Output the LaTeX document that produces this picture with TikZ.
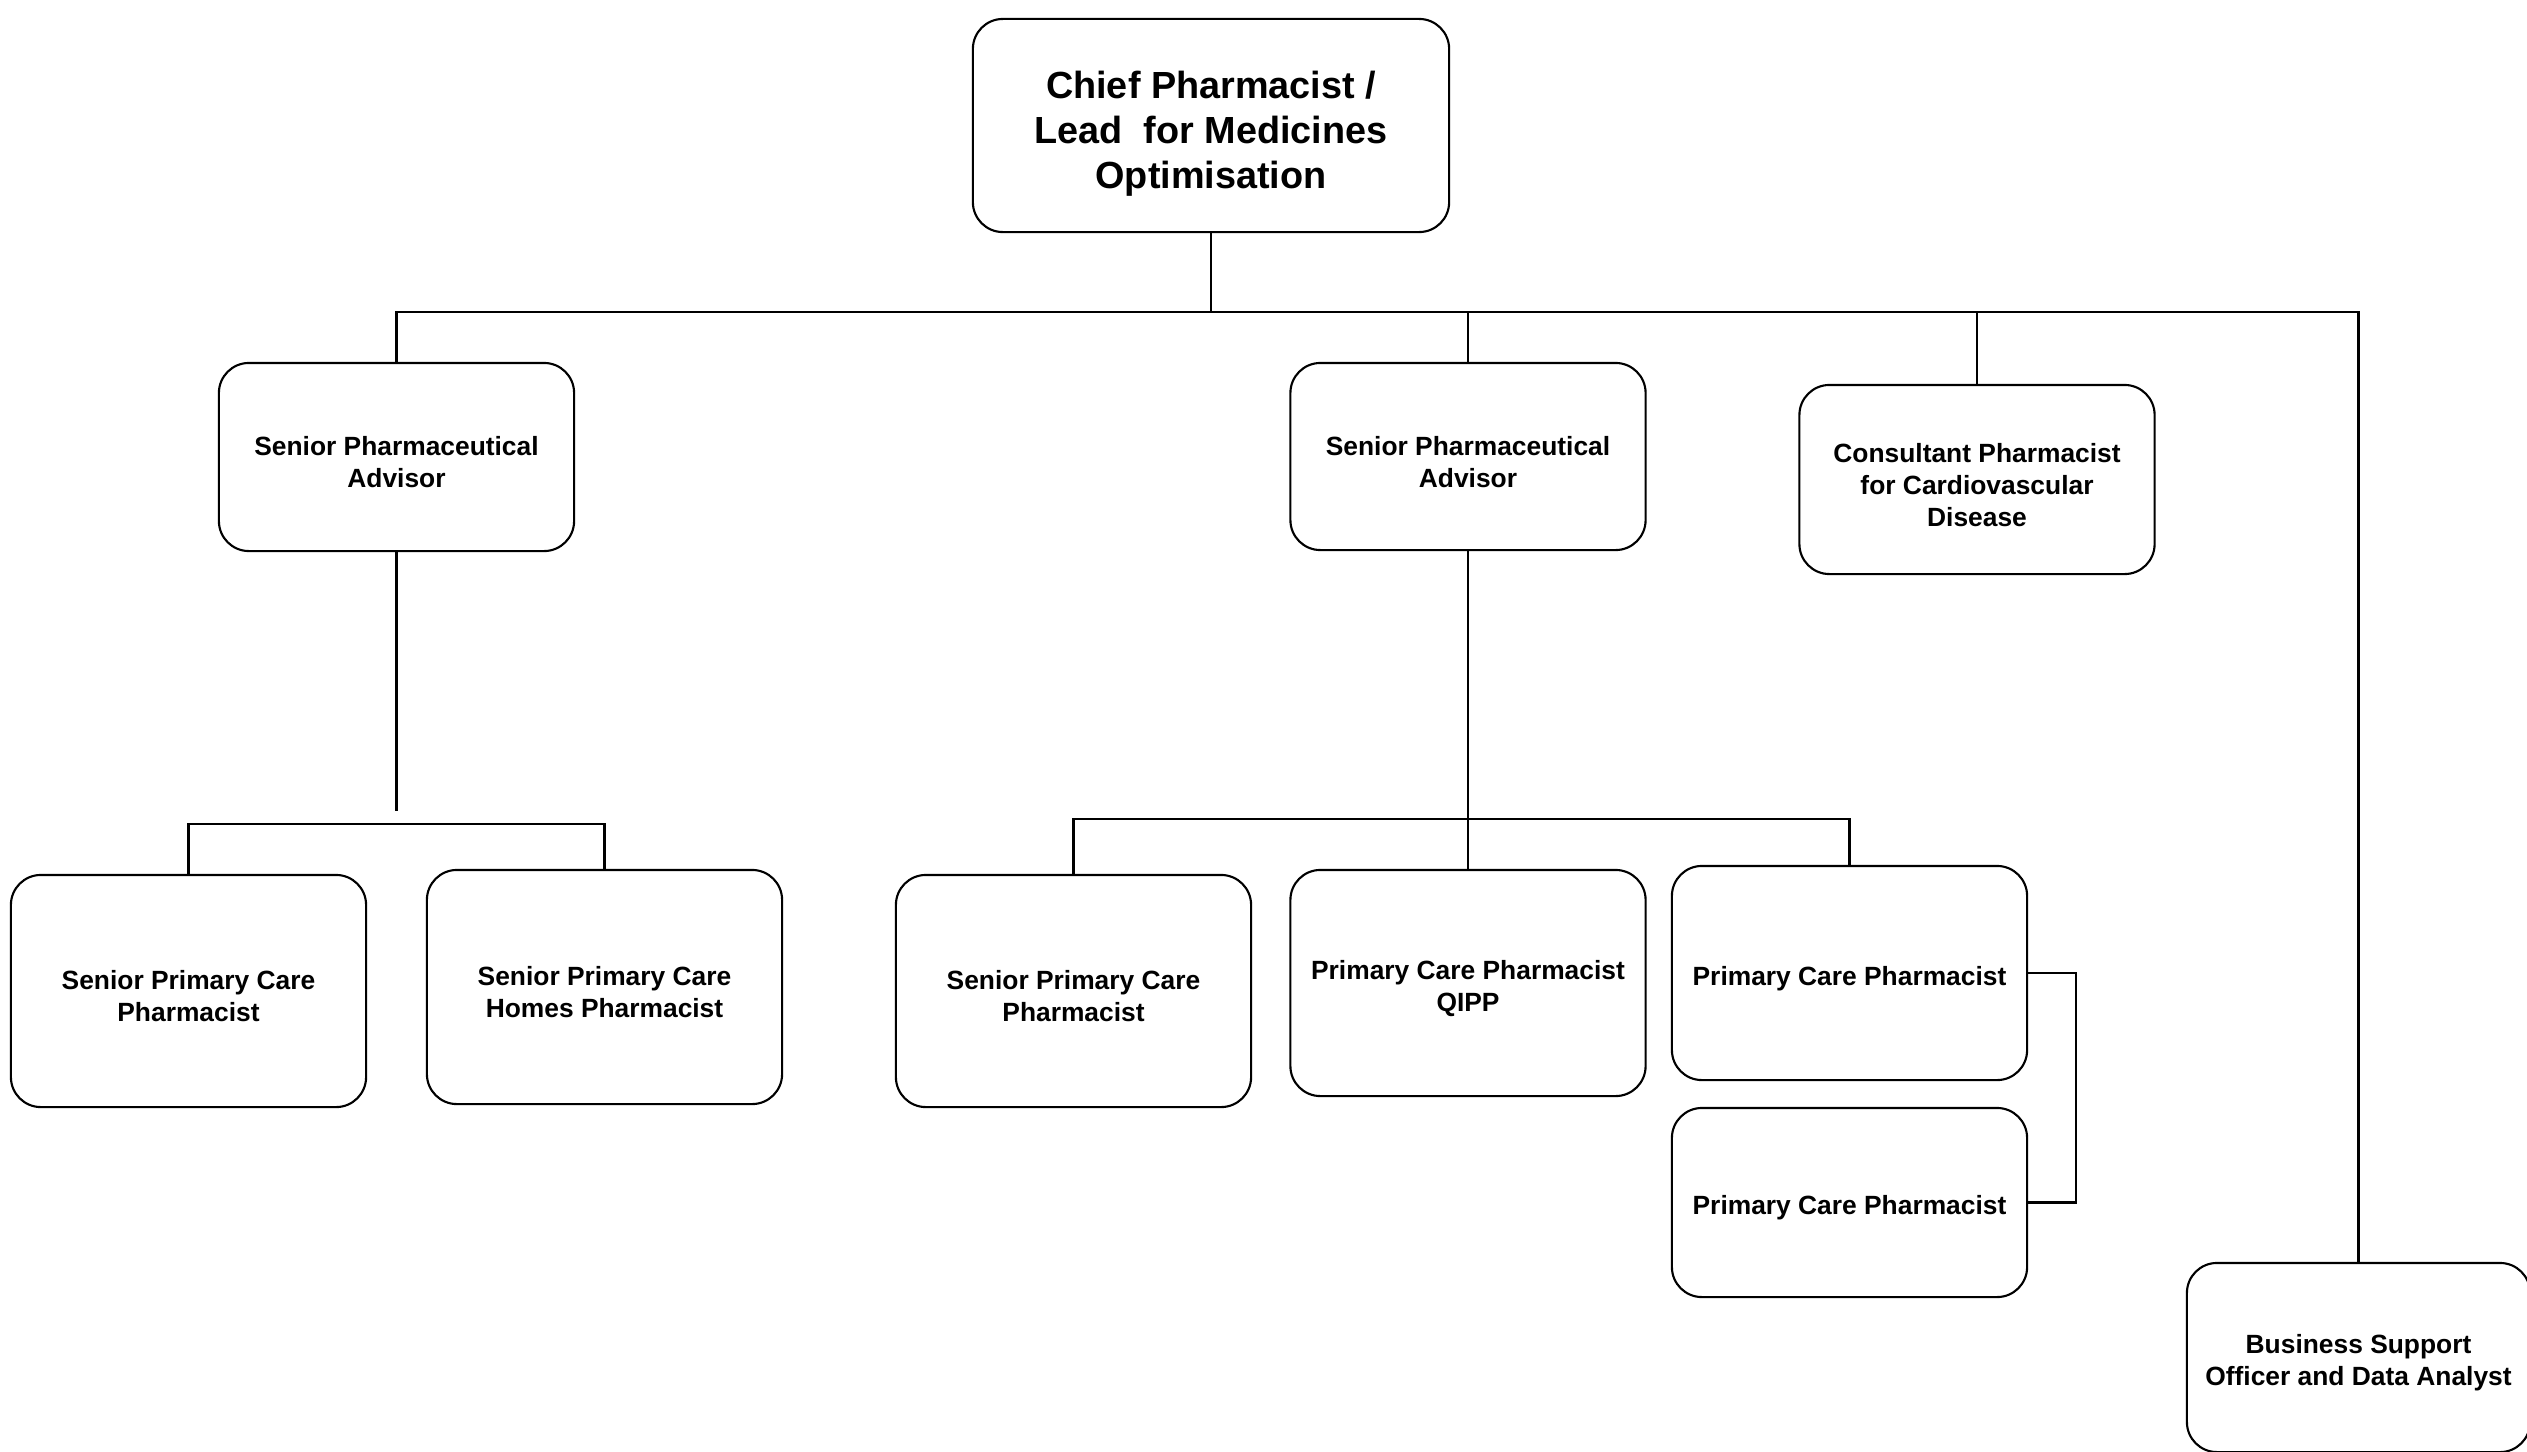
\documentclass[tikz,border=0pt]{standalone}
\usepackage{fontspec}
\setmainfont{Liberation Sans}
\newcommand{\topstrut}[1][8.5pt]{\rule{0pt}{#1}}
\begin{document}
\begin{tikzpicture}[x=0.01cm,y=-0.01cm,
  post/.style={draw,rounded corners=0.3cm,line width=0.6pt,align=center,inner sep=0pt,
    minimum width=3.55cm,font=\bfseries\fontsize{7.5}{9.1}\selectfont},
  link/.style={line width=0.7pt}]
\clip (0,0) rectangle (2527,1451);
\node[post,minimum width=4.76cm,minimum height=2.13cm,font=\bfseries\fontsize{10.75}{12.8}\selectfont]
  (chief) at (1211,125.5) {\topstrut[12.4pt]Chief Pharmacist /\\Lead~ for Medicines\\Optimisation};
\node[post,minimum height=1.88cm] (spaL) at (396.5,457) {\topstrut Senior Pharmaceutical\\Advisor};
\node[post,minimum height=1.87cm] (spaM) at (1468,456.5) {\topstrut Senior Pharmaceutical\\Advisor};
\node[post,minimum height=1.89cm] (cons) at (1977,479.5) {\topstrut Consultant Pharmacist\\for Cardiovascular\\Disease};
\node[post,minimum height=2.32cm] (spcL) at (188.5,991) {\topstrut Senior Primary Care\\Pharmacist};
\node[post,minimum height=2.34cm] (spch) at (604.5,987) {\topstrut Senior Primary Care\\Homes Pharmacist};
\node[post,minimum height=2.32cm] (spcM) at (1073.5,991) {\topstrut Senior Primary Care\\Pharmacist};
\node[post,minimum height=2.26cm] (qipp) at (1468,983) {\topstrut Primary Care Pharmacist\\QIPP};
\node[post,minimum height=2.14cm] (pcpA) at (1849.5,973) {\topstrut Primary Care Pharmacist};
\node[post,minimum height=1.89cm] (pcpB) at (1849.5,1202.5) {\topstrut Primary Care Pharmacist};
\node[post,minimum width=3.43cm,minimum height=1.89cm] (bso) at (2358.5,1357.5) {\topstrut Business Support\\Officer and Data Analyst};
% top level
\coordinate (bus) at (1211,312);
\draw[link] (chief) -- (bus);
\draw[link] (spaL.north) |- (bus) -| (cons.north);
\draw[link] (spaM.north) -- (spaM.north |- bus);
\draw[link] (cons.north |- bus) -| (bso.north);
% left team
\coordinate (spaLend) at (396.5,811);
\draw[link] (spaL.south) -- (spaLend);
\draw[link] (spcL.north) |- (604.5,824) -| (spch.north);
% middle team
\draw[link] (spaM.south) -- (qipp.north);
\draw[link] (spcM.north) |- (1468,819) -| (pcpA.north);
\draw[link] (pcpA.east) -- ++(48,0) |- (pcpB.east);
\end{tikzpicture}
\end{document}
